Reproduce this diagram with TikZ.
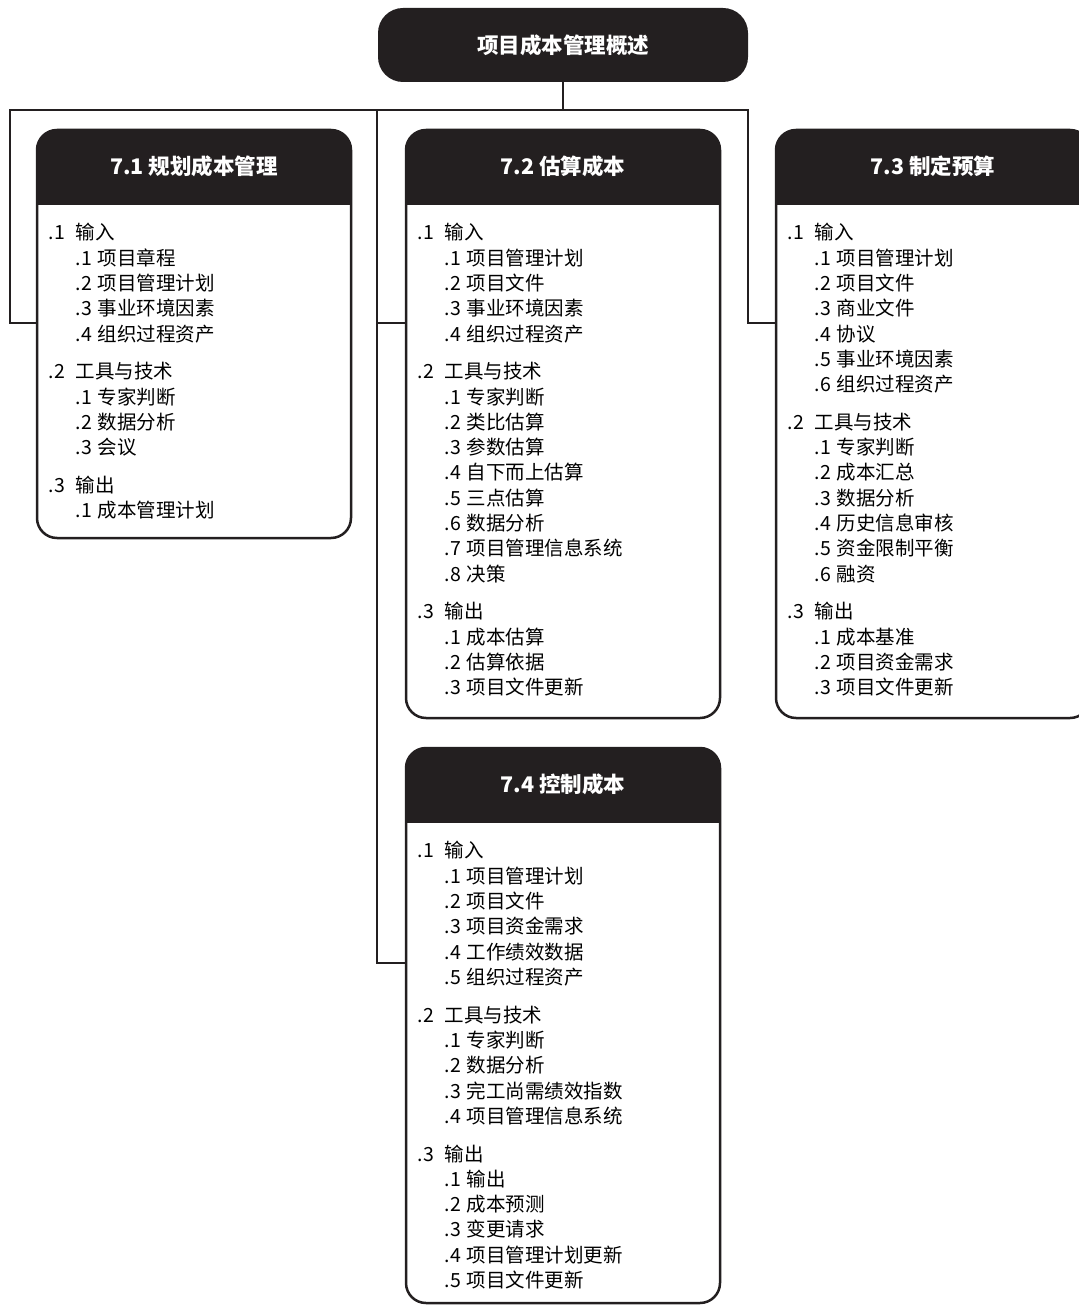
\documentclass[tikz,border=0pt]{standalone}
\usepackage{fontspec}
\setmainfont{Noto Sans CJK SC}
\usetikzlibrary{calc}

\definecolor{ink}{HTML}{231F20}
\newcommand{\grpline}[2]{\makebox[27pt][l]{#1}#2}
\newcommand{\subline}[2]{\hspace*{27pt}\makebox[22pt][l]{#1}#2}

\tikzset{
  procbox/.style={draw=ink, line width=2.5pt, rounded corners=20pt, minimum width=314pt, inner sep=0pt,
    path picture={\fill[ink, sharp corners] (path picture bounding box.north west) rectangle ([yshift=-75pt]path picture bounding box.north east);}},
  headtext/.style={text=white, font=\fontsize{21.5}{24}\selectfont\bfseries},
  itemtext/.style={anchor=north west, inner sep=0pt, align=left, font=\fontsize{19.5}{25.3}\selectfont},
  link/.style={draw=ink, line width=2pt},
}

\begin{document}
\begin{tikzpicture}[x=1pt,y=-1pt]
\useasboundingbox (0,0) rectangle (1078,1305);

% connectors
\coordinate (busL) at (10,110);
\coordinate (busM) at (377,110);
\coordinate (busR) at (748,110);
\coordinate (tapL) at (10,323);
\coordinate (tapM) at (377,323);
\coordinate (tapR) at (748,323);
\coordinate (tapC) at (377,963);

\node[fill=ink, rounded corners=25pt, minimum width=370pt, minimum height=74pt, headtext] (overview) at (563,45) {项目成本管理概述};

\node[procbox, minimum height=408pt] (plan) at (194,334) {};
\node[procbox, minimum height=588pt] (estimate) at (563,424) {};
\node[procbox, minimum height=588pt] (budget) at (933,424) {};
\node[procbox, minimum height=555pt] (control) at (563,1025.5) {};

\draw[link] (overview.south) -- (overview.south |- busM);
\draw[link] (tapL -| plan.west) -- (tapL) -- (busL) -- (busR) -- (tapR) -- (tapR -| budget.west);
\draw[link] (busM) -- (tapC) -- (tapC -| control.west);
\draw[link] (tapM) -- (tapM -| estimate.west);

% titles
\node[headtext] (plantitle) at ([yshift=-37.5pt]plan.north) {7.1 规划成本管理};
\node[headtext] (estimatetitle) at ([yshift=-37.5pt]estimate.north) {7.2 估算成本};
\node[headtext] (budgettitle) at ([yshift=-37.5pt]budget.north) {7.3 制定预算};
\node[headtext] (controltitle) at ([yshift=-37.5pt]control.north) {7.4 控制成本};

% lists
\node[itemtext] (planlist) at ([xshift=13pt,yshift=-94.5pt]plan.north west) {%
\grpline{.1}{输入}\\ \subline{.1}{项目章程}\\ \subline{.2}{项目管理计划}\\ \subline{.3}{事业环境因素}\\ \subline{.4}{组织过程资产}\\[12.4pt]
\grpline{.2}{工具与技术}\\ \subline{.1}{专家判断}\\ \subline{.2}{数据分析}\\ \subline{.3}{会议}\\[12.4pt]
\grpline{.3}{输出}\\ \subline{.1}{成本管理计划}};

\node[itemtext] (estimatelist) at ([xshift=13pt,yshift=-94.5pt]estimate.north west) {%
\grpline{.1}{输入}\\ \subline{.1}{项目管理计划}\\ \subline{.2}{项目文件}\\ \subline{.3}{事业环境因素}\\ \subline{.4}{组织过程资产}\\[12.4pt]
\grpline{.2}{工具与技术}\\ \subline{.1}{专家判断}\\ \subline{.2}{类比估算}\\ \subline{.3}{参数估算}\\ \subline{.4}{自下而上估算}\\ \subline{.5}{三点估算}\\ \subline{.6}{数据分析}\\ \subline{.7}{项目管理信息系统}\\ \subline{.8}{决策}\\[12.4pt]
\grpline{.3}{输出}\\ \subline{.1}{成本估算}\\ \subline{.2}{估算依据}\\ \subline{.3}{项目文件更新}};

\node[itemtext] (budgetlist) at ([xshift=13pt,yshift=-94.5pt]budget.north west) {%
\grpline{.1}{输入}\\ \subline{.1}{项目管理计划}\\ \subline{.2}{项目文件}\\ \subline{.3}{商业文件}\\ \subline{.4}{协议}\\ \subline{.5}{事业环境因素}\\ \subline{.6}{组织过程资产}\\[12.4pt]
\grpline{.2}{工具与技术}\\ \subline{.1}{专家判断}\\ \subline{.2}{成本汇总}\\ \subline{.3}{数据分析}\\ \subline{.4}{历史信息审核}\\ \subline{.5}{资金限制平衡}\\ \subline{.6}{融资}\\[12.4pt]
\grpline{.3}{输出}\\ \subline{.1}{成本基准}\\ \subline{.2}{项目资金需求}\\ \subline{.3}{项目文件更新}};

\node[itemtext] (controllist) at ([xshift=13pt,yshift=-94.5pt]control.north west) {%
\grpline{.1}{输入}\\ \subline{.1}{项目管理计划}\\ \subline{.2}{项目文件}\\ \subline{.3}{项目资金需求}\\ \subline{.4}{工作绩效数据}\\ \subline{.5}{组织过程资产}\\[12.4pt]
\grpline{.2}{工具与技术}\\ \subline{.1}{专家判断}\\ \subline{.2}{数据分析}\\ \subline{.3}{完工尚需绩效指数}\\ \subline{.4}{项目管理信息系统}\\[12.4pt]
\grpline{.3}{输出}\\ \subline{.1}{输出}\\ \subline{.2}{成本预测}\\ \subline{.3}{变更请求}\\ \subline{.4}{项目管理计划更新}\\ \subline{.5}{项目文件更新}};
\end{tikzpicture}
\end{document}
